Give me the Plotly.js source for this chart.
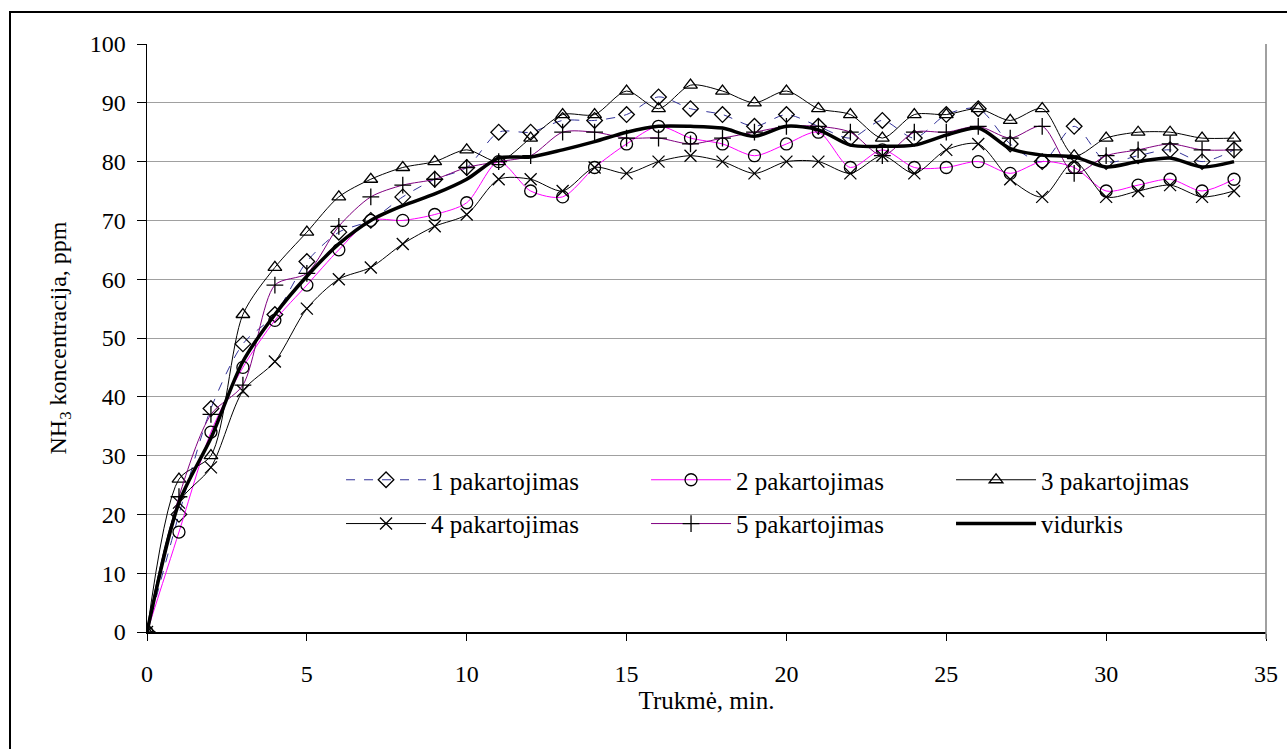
<!DOCTYPE html>
<html>
<head>
<meta charset="utf-8">
<script src="https://cdn.plot.ly/plotly-3.0.1.min.js"></script>
<style>
html,body{margin:0;padding:0;overflow:hidden;background:#fff;}
#chart{width:1287px;height:749px;position:absolute;left:0;top:0;}
#frame{position:absolute;left:9px;top:11px;width:1300px;height:800px;border:2px solid #000;pointer-events:none;}
</style>
</head>
<body>
<div id="chart"></div>
<div id="frame"></div>
<script>
const minutes = [0,1,2,3,4,5,6,7,8,9,10,11,12,13,14,15,16,17,18,19,20,21,22,23,24,25,26,27,28,29,30,31,32,33,34];
const rep1 = [0,20,38,49,54,63,68,70,74,77,79,85,85,87,87,88,91,89,88,86,88,86,84,87,84,88,89,83,80,86,80,81,82,80,82];
const rep2 = [0,17,34,45,53,59,65,70,70,71,73,80,75,74,79,83,86,84,83,81,83,85,79,82,79,79,80,78,80,79,75,76,77,75,77];
const rep3 = [0,26,30,54,62,68,74,77,79,80,82,80,84,88,88,92,89,93,92,90,92,89,88,84,88,88,89,87,89,81,84,85,85,84,84];
const rep4 = [0,22,28,41,46,55,60,62,66,69,71,77,77,75,79,78,80,81,80,78,80,80,78,81,78,82,83,77,74,80,74,75,76,74,75];
const rep5 = [0,23,37,42,59,61,69,74,76,77,79,80,81,85,85,84,84,83,84,85,86,86,85,81,85,85,86,84,86,78,81,82,83,82,82];
const avg  = [0,22,33,46,54,60.5,66,70,72.5,74.5,77,80.6,80.8,82,83.4,85,86,86,85.7,84.3,86,85.4,82.8,82.6,82.8,84.5,85.7,82.2,81.1,80.8,79.1,80,80.6,79.1,80];
const names = ["1 pakartojimas","2 pakartojimas","3 pakartojimas","4 pakartojimas","5 pakartojimas","vidurkis"];

const fontFam = "'Liberation Serif', 'Times New Roman', serif";
const fs = 24;
function mk(sym){ return {symbol: sym, size: 12, color: '#000', line: {color: '#000', width: 1.3}}; }

const traces = [
  {x: minutes, y: rep1, name: names[0], mode: 'lines+markers', line: {color: '#333399', width: 1, dash: 'dash', shape: 'spline', smoothing: 0.8}, marker: mk('diamond-open'), legend: 'legend'},
  {x: minutes, y: rep2, name: names[1], mode: 'lines+markers', line: {color: '#FF00FF', width: 1, shape: 'spline', smoothing: 0.8}, marker: mk('circle-open'), legend: 'legend'},
  {x: minutes, y: rep3, name: names[2], mode: 'lines+markers', line: {color: '#000000', width: 1, shape: 'spline', smoothing: 0.8}, marker: mk('triangle-up-open'), legend: 'legend'},
  {x: minutes, y: rep4, name: names[3], mode: 'lines+markers', line: {color: '#000000', width: 1, shape: 'spline', smoothing: 0.8}, marker: mk('x-thin-open'), legend: 'legend2'},
  {x: minutes, y: rep5, name: names[4], mode: 'lines+markers', line: {color: '#800080', width: 1, shape: 'spline', smoothing: 0.8}, marker: mk('cross-thin-open'), legend: 'legend2'},
  {x: minutes, y: avg,  name: names[5], mode: 'lines', line: {color: '#000000', width: 3.5, shape: 'spline', smoothing: 0.8}, legend: 'legend2'}
];

const legendCommon = {
  orientation: 'h', entrywidth: 210, entrywidthmode: 'pixels', itemwidth: 80,
  bgcolor: 'rgba(0,0,0,0)', borderwidth: 0,
  font: {family: fontFam, size: 25, color: '#000'},
  xanchor: 'left', yanchor: 'middle'
};

const layout = {
  width: 1287, height: 749,
  margin: {l: 147, r: 21, t: 44, b: 117, pad: 0},
  paper_bgcolor: '#fff', plot_bgcolor: '#fff',
  font: {family: fontFam, size: fs, color: '#000'},
  showlegend: true,
  legend: Object.assign({}, legendCommon, {x: 0.1734, y: 0.2585}),
  legend2: Object.assign({}, legendCommon, {x: 0.1734, y: 0.184}),
  xaxis: {
    range: [0, 35], tickmode: 'linear', tick0: 0, dtick: 5,
    showgrid: false, zeroline: false,
    showline: true, linecolor: '#000', linewidth: 1.5,
    ticks: 'outside', ticklen: 7, tickcolor: '#000', tickwidth: 1,
    ticklabelstandoff: 13,
    tickfont: {family: fontFam, size: fs, color: '#000'},
    title: {text: 'Trukmė, min.', font: {family: fontFam, size: 25, color: '#000'}, standoff: 5}
  },
  yaxis: {
    range: [0, 100], tickmode: 'linear', tick0: 0, dtick: 10,
    showgrid: true, gridcolor: '#a0a0a0', gridwidth: 1, zeroline: false,
    showline: true, linecolor: '#000', linewidth: 1.5,
    ticks: 'outside', ticklen: 9, tickcolor: '#000', tickwidth: 1,
    ticklabelstandoff: 6,
    tickfont: {family: fontFam, size: fs, color: '#000'},
    title: {text: 'NH<sub>3</sub> koncentracija, ppm', font: {family: fontFam, size: fs, color: '#000'}, standoff: 16}
  },
  shapes: [
    {type: 'rect', xref: 'paper', yref: 'paper', x0: 0.142, x1: 0.963, y0: 0.122, y1: 0.31, fillcolor: '#fff', line: {width: 0}, layer: 'between'},
    {type: 'line', xref: 'paper', yref: 'paper', x0: 1, x1: 1, y0: -0.012, y1: 1, line: {color: '#808080', width: 1.5}}
  ]
};

Plotly.newPlot('chart', traces, layout, {displayModeBar: false, staticPlot: true});
</script>
</body>
</html>
